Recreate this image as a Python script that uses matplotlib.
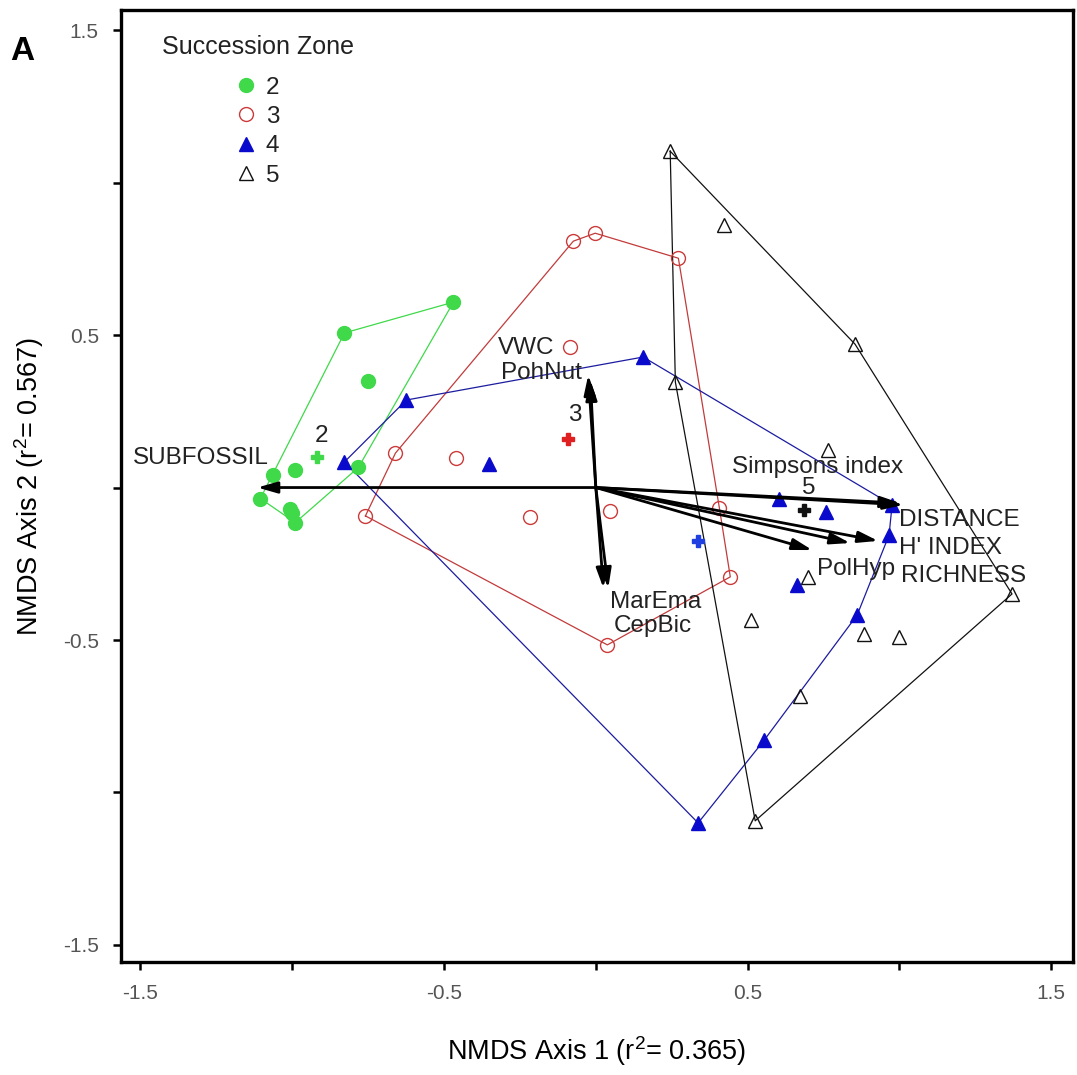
import matplotlib
matplotlib.use('Agg')
import matplotlib.pyplot as plt
from matplotlib.lines import Line2D
import numpy as np

plt.rcParams['font.family'] = ['Liberation Sans', 'DejaVu Sans']
plt.rcParams['mathtext.fontset'] = 'custom'
plt.rcParams['mathtext.rm'] = 'Liberation Sans'

# NMDS site scores per succession zone
zone2_x = [-0.469, -0.828, -0.752, -0.990, -1.062, -0.782, -1.105, -1.009, -0.990, -1.000]
zone2_y = [0.608, 0.507, 0.349, 0.058, 0.040, 0.066, -0.036, -0.070, -0.115, -0.085]

zone3_x = [-0.074, -0.002, 0.272, -0.084, -0.660, -0.459, -0.759, -0.216, 0.048, 0.407, 0.443, 0.038]
zone3_y = [0.808, 0.834, 0.752, 0.461, 0.113, 0.097, -0.093, -0.097, -0.077, -0.067, -0.293, -0.516]

zone4_x = [0.156, -0.624, -0.828, -0.351, 0.604, 0.759, 0.976, 0.966, 0.663, 0.861, 0.555, 0.337]
zone4_y = [0.428, 0.287, 0.084, 0.077, -0.038, -0.080, -0.057, -0.156, -0.320, -0.418, -0.828, -1.100]

zone5_x = [0.245, 0.423, 0.854, 0.262, 0.766, 0.700, 1.371, 0.512, 0.884, 0.999, 0.673, 0.525]
zone5_y = [1.103, 0.861, 0.470, 0.346, 0.123, -0.293, -0.349, -0.434, -0.480, -0.490, -0.684, -1.093]

# group centroids
cent_labels = ['2', '3', '4', '5']
cent_x = [-0.920, -0.091, 0.337, 0.687]
cent_y = [0.100, 0.159, -0.175, -0.074]

# environmental / species vectors
vec_names = ['SUBFOSSIL', 'VWC', 'PohNut', 'MarEma', 'CepBic',
             'Simpsons index', 'DISTANCE', "H' INDEX", 'RICHNESS', 'PolHyp']
vec_x = [-1.115, -0.025, -0.018, 0.025, 0.041, 1.003, 1.013, 0.930, 0.838, 0.713]
vec_y = [0.000, 0.369, 0.352, -0.330, -0.330, -0.051, -0.057, -0.175, -0.182, -0.205]


def hull(xs, ys):
    pts = sorted(zip(xs, ys))

    def cross(o, a, b):
        return (a[0]-o[0])*(b[1]-o[1]) - (a[1]-o[1])*(b[0]-o[0])
    lower, upper = [], []
    for p in pts:
        while len(lower) >= 2 and cross(lower[-2], lower[-1], p) <= 0:
            lower.pop()
        lower.append(p)
    for p in reversed(pts):
        while len(upper) >= 2 and cross(upper[-2], upper[-1], p) <= 0:
            upper.pop()
        upper.append(p)
    h = lower[:-1] + upper[:-1]
    h.append(h[0])
    return [p[0] for p in h], [p[1] for p in h]


fig = plt.figure(figsize=(10.77, 10.75), dpi=100)
ax = fig.add_axes([0.1124, 0.1051, 0.8839, 0.8856])

groups = [
    (zone2_x, zone2_y, '#3fd94a', dict(marker='o', ms=10, mfc='#3fd94a', mec='#3fd94a')),
    (zone3_x, zone3_y, '#c23b3b', dict(marker='o', ms=10, mfc='none', mec='#cc3a3a', mew=1.0)),
    (zone4_x, zone4_y, '#1c1ca0', dict(marker='^', ms=10, mfc='#0a0acc', mec='#0a0acc')),
    (zone5_x, zone5_y, '#111111', dict(marker='^', ms=10, mfc='none', mec='#111111', mew=1.0)),
]
handles = []
for gx, gy, lc, mk in groups:
    hx, hy = hull(gx, gy)
    ax.plot(hx, hy, color=lc, lw=0.9, zorder=2)
    ax.plot(gx, gy, ls='none', zorder=4, **mk)
    handles.append(Line2D([], [], ls='none', **mk))

# vectors
for vx, vy in zip(vec_x, vec_y):
    ax.annotate('', xy=(vx, vy), xytext=(0, 0),
                arrowprops=dict(arrowstyle='-|>,head_length=0.7,head_width=0.2',
                                lw=2.0, color='black', shrinkA=0, shrinkB=0,
                                mutation_scale=17), zorder=5)

# centroids
cent_cols = ['#3fd94a', '#e02020', '#1f3fe0', '#111111']
for cx, cy, cc in zip(cent_x, cent_y, cent_cols):
    ax.plot(cx, cy, marker='P', ms=8.5, color=cc, mec=cc, ls='none', zorder=6)

lab_kw = dict(fontsize=17.5, color='#222222', zorder=7)
# vector labels (left x, center y)
vec_lab_x = [-1.078, -0.324, -0.314, 0.048, 0.058, 0.449, 0.999, 0.999, 1.006, 0.730]
vec_lab_y = [0.096, 0.457, 0.375, -0.375, -0.454, 0.068, -0.107, -0.198, -0.290, -0.267]
for i, name in enumerate(vec_names):
    ha = 'right' if i == 0 else 'left'
    ax.text(vec_lab_x[i], vec_lab_y[i], name, ha=ha, va='center', **lab_kw)

# centroid labels
cent_lab_x = [-0.904, -0.068, None, 0.700]
cent_lab_y = [0.168, 0.238, None, 0.0]
for lab, lx, ly in zip(cent_labels, cent_lab_x, cent_lab_y):
    if lx is not None:
        ax.text(lx, ly, lab, ha='center', va='center', **lab_kw)

ax.set_xlim(-1.564, 1.572)
ax.set_ylim(-1.556, 1.566)

ax.set_xticks([-1.5, -0.5, 0.5, 1.5])
ax.set_yticks([-1.5, -0.5, 0.5, 1.5])
ax.set_xticks([-1, 0, 1], minor=True)
ax.set_yticks([-1, 0, 1], minor=True)
ax.set_xticklabels(['-1.5', '-0.5', '0.5', '1.5'])
ax.set_yticklabels(['-1.5', '-0.5', '0.5', '1.5'])
ax.tick_params(which='both', direction='out', length=6, width=1.8,
               labelsize=15, labelcolor='#555555', pad=10)
for s in ax.spines.values():
    s.set_linewidth(2.4)

ax.set_xlabel('NMDS Axis 1 (r$^{\\mathregular{2}}$= 0.365)', fontsize=19.5, labelpad=22)
ax.set_ylabel('NMDS Axis 2 (r$^{\\mathregular{2}}$= 0.567)', fontsize=19.5, labelpad=12)

ax.text(0.0431, 0.961, 'Succession Zone', transform=ax.transAxes, ha='left',
        va='center', fontsize=18, color='#222222')
leg = ax.legend(handles, cent_labels, loc='upper left',
                bbox_to_anchor=(0.1214, 0.930), frameon=False, fontsize=17.5,
                handlelength=0.8, handletextpad=0.4, labelspacing=0.3,
                borderpad=0, borderaxespad=0)
for t in leg.get_texts():
    t.set_color('#222222')

fig.text(22/1077, 1-51/1075, 'A', fontsize=24, fontweight='bold', ha='center', va='center')

fig.savefig('out.png', dpi=100)
